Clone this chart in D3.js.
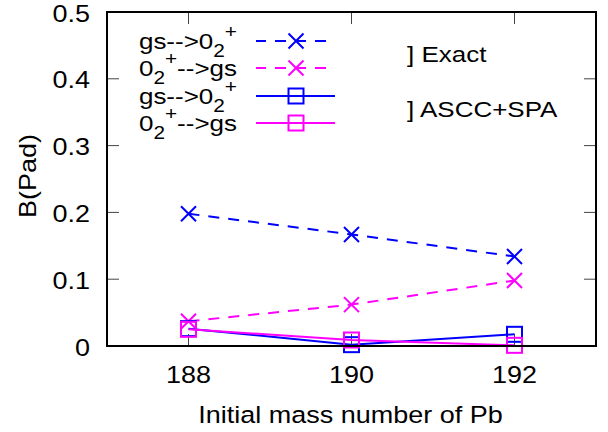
<!DOCTYPE html>
<html><head><meta charset="utf-8">
<script src="https://cdn.jsdelivr.net/npm/d3@7"></script>
<style>body{margin:0;background:#fff}svg{display:block}text{font-family:"Liberation Sans",Arial,sans-serif;fill:#000}</style>
</head><body>
<script>
const massNumbers = [188, 190, 192];
const exactGsTo02 = [0.198, 0.167, 0.134];
const exact02ToGs = [0.037, 0.062, 0.098];
const asccGsTo02 = [0.026, 0.002, 0.0175];
const ascc02ToGs = [0.025, 0.009, 0.001];
const xTicks = [188, 190, 192];
const yTicks = [0, 0.1, 0.2, 0.3, 0.4, 0.5];
const yTickLabels = ["0", "0.1", "0.2", "0.3", "0.4", "0.5"];

const W = 608, H = 432;
const L = 107, R = 596, T = 12, B = 346;
const FS = 27, SY = 0.91;
const svg = d3.select("body").append("svg").attr("width", W).attr("height", H);
const x = d3.scaleLinear().domain([187, 193]).range([L, R]);
const y = d3.scaleLinear().domain([0, 0.5]).range([B, T]);

function txt(parent, px, py, str, size, anchor, sy, rot) {
  const g = parent.append("g").attr("transform", `translate(${px},${py})${rot ? ` rotate(${rot})` : ""} scale(1,${sy})`);
  return g.append("text").attr("x", 0).attr("y", 0).attr("text-anchor", anchor).attr("font-size", size).text(str);
}

// ticks (mirrored)
const tk = svg.append("g").attr("stroke", "#444").attr("stroke-width", 1);
xTicks.forEach(v => {
  tk.append("line").attr("x1", x(v)).attr("x2", x(v)).attr("y1", B).attr("y2", B - 12);
  tk.append("line").attr("x1", x(v)).attr("x2", x(v)).attr("y1", T).attr("y2", T + 12);
});
yTicks.forEach(v => {
  tk.append("line").attr("y1", y(v)).attr("y2", y(v)).attr("x1", L).attr("x2", L + 12);
  tk.append("line").attr("y1", y(v)).attr("y2", y(v)).attr("x1", R).attr("x2", R - 12);
});

// tick labels
const tl = svg.append("g");
xTicks.forEach(v => txt(tl, x(v), B + 37, String(v), FS, "middle", SY));
yTicks.forEach((v, i) => txt(tl, 90, y(v) + 9.5, yTickLabels[i], FS, "end", SY));

// axis titles
txt(svg, (L + R) / 2 - 1, 423, "Initial mass number of Pb", FS, "middle", SY);
txt(svg, 36, 176, "B(Pad)", FS, "middle", SY, -90);

const series = [
  {vals: exactGsTo02, color: "#0000ff", dash: "11,9", mark: "x"},
  {vals: exact02ToGs, color: "#ff00ff", dash: "11,9", mark: "x"},
  {vals: asccGsTo02, color: "#0000ff", dash: null, mark: "sq"},
  {vals: ascc02ToGs, color: "#ff00ff", dash: null, mark: "sq"}
];

function drawMark(g, cx, cy, s) {
  if (s.mark === "x") {
    g.append("path").attr("d", `M${cx-7.5},${cy-7.5}L${cx+7.5},${cy+7.5}M${cx-7.5},${cy+7.5}L${cx+7.5},${cy-7.5}`)
      .attr("stroke", s.color).attr("stroke-width", 2).attr("fill", "none");
  } else {
    g.append("rect").attr("x", cx - 7.5).attr("y", cy - 7.5).attr("width", 15).attr("height", 15)
      .attr("stroke", s.color).attr("stroke-width", 2).attr("fill", "none");
  }
}

const line = d3.line().x((d, i) => x(massNumbers[i])).y(d => y(d));
const dg = svg.append("g");
series.forEach(s => {
  const p = dg.append("path").attr("d", line(s.vals)).attr("fill", "none")
    .attr("stroke", s.color).attr("stroke-width", 2);
  if (s.dash) p.attr("stroke-dasharray", s.dash);
  s.vals.forEach((v, i) => drawMark(dg, x(massNumbers[i]), y(v), s));
});

// legend
const legRows = [41, 68, 96, 123];
const legendLabels = [
  [["gs-->0", 0], ["2", 1], ["+", -1]],
  [["0", 0], ["2", 1], ["+", -1], ["-->gs", 0]],
  [["gs-->0", 0], ["2", 1], ["+", -1]],
  [["0", 0], ["2", 1], ["+", -1], ["-->gs", 0]]
];
const LFS = 26, LSY = 0.88;
const lg = svg.append("g");
series.forEach((s, i) => {
  const cy = legRows[i];
  const t = txt(lg, 237, cy + 8, "", LFS, "end", LSY);
  let acc = 0;
  legendLabels[i].forEach(([str, sh]) => {
    const target = sh === 1 ? 9 : sh === -1 ? -12.5 : 0;
    const ts = t.append("tspan").text(str).attr("dy", target - acc);
    if (sh !== 0) ts.attr("font-size", LFS * 0.8);
    acc = target;
  });
  const ln = lg.append("line").attr("x1", 256).attr("x2", 335).attr("y1", cy).attr("y2", cy)
    .attr("stroke", s.color).attr("stroke-width", 2);
  if (s.dash) ln.attr("stroke-dasharray", "11,9").attr("stroke-dashoffset", 1);
  drawMark(lg, 296, cy, s);
});
txt(lg, 407, 61.5, "] Exact", LFS, "start", LSY);
txt(lg, 407, 116.5, "] ASCC+SPA", LFS, "start", LSY);

// border
svg.append("rect").attr("x", L).attr("y", T).attr("width", R - L).attr("height", B - T)
  .attr("fill", "none").attr("stroke", "#000").attr("stroke-width", 2);
</script>
</body></html>
